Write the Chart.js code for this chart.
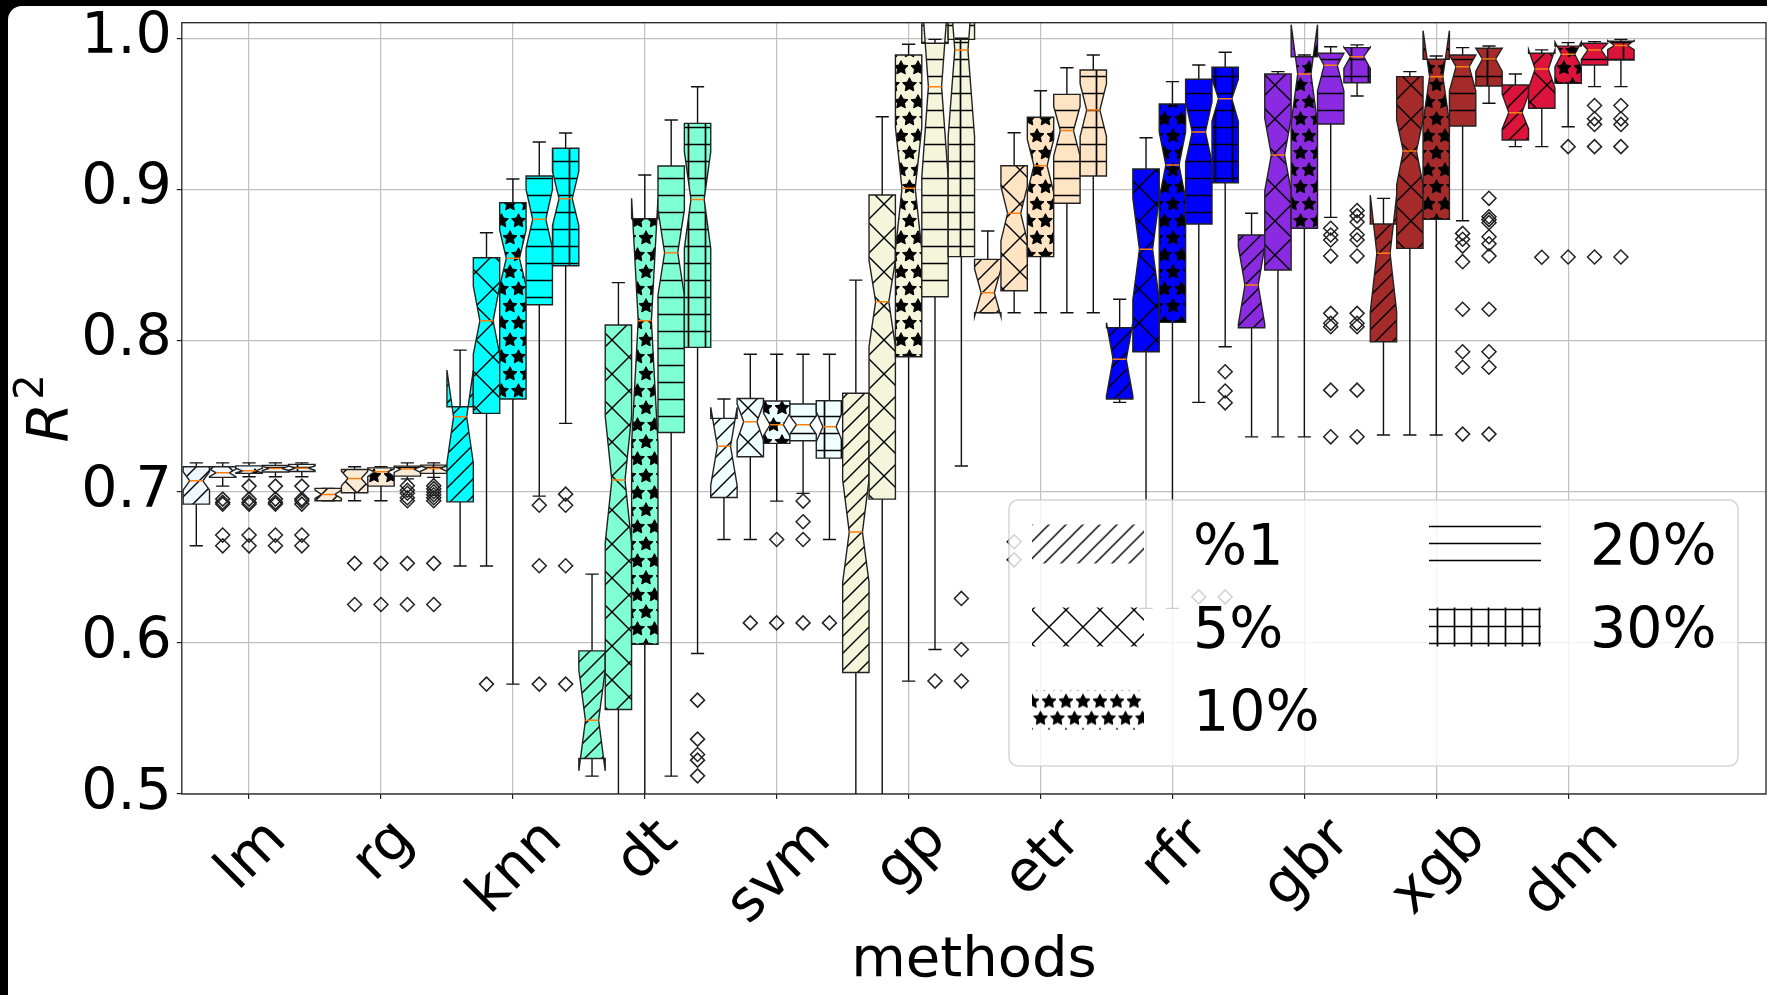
<!DOCTYPE html>
<html>
<head>
<meta charset="utf-8">
<script src="https://cdn.jsdelivr.net/npm/chart.js@4.4.1/dist/chart.umd.min.js"></script>
<style>
  html, body { margin: 0; padding: 0; background: #fff; }
  canvas { display: block; }
</style>
</head>
<body>
<canvas id="chart" width="1767" height="995"></canvas>
<script>
// categories
const methods = ['lm', 'rg', 'knn', 'dt', 'svm', 'gp', 'etr', 'rfr', 'gbr', 'xgb', 'dnn'];
const sizes = ['%1', '5%', '10%', '20%', '30%'];
const yTicks = [0.5, 0.6, 0.7, 0.8, 0.9, 1.0];

// box statistics, one row per method, one column per training size
const whiskerLow = [
  [0.6642, 0.7037, 0.7099, 0.7099, 0.7099],
  [0.6940, 0.6940, 0.6940, 0.7085, 0.7095],
  [0.6508, 0.6508, 0.5727, 0.6971, 0.7452],
  [0.5118, 0.4500, 0.4500, 0.5118, 0.5930],
  [0.6684, 0.6684, 0.6938, 0.6989, 0.6684],
  [0.4500, 0.4500, 0.5747, 0.5956, 0.7170],
  [0.8184, 0.8184, 0.8184, 0.8184, 0.8184],
  [0.7591, 0.6228, 0.6228, 0.7591, 0.7959],
  [0.7363, 0.7363, 0.7363, 0.8815, 0.9618],
  [0.7375, 0.7375, 0.7375, 0.8793, 0.9570],
  [0.9283, 0.9283, 0.9415, 0.9680, 0.9680],
];
const q1 = [
  [0.6918, 0.7095, 0.7121, 0.7130, 0.7134],
  [0.6940, 0.6993, 0.7037, 0.7103, 0.7121],
  [0.6933, 0.7518, 0.7613, 0.8237, 0.8495],
  [0.5235, 0.5559, 0.5991, 0.7392, 0.7955],
  [0.6962, 0.7231, 0.7320, 0.7337, 0.7222],
  [0.5804, 0.6951, 0.7893, 0.8290, 0.8555],
  [0.8184, 0.8330, 0.8555, 0.8908, 0.9089],
  [0.7613, 0.7926, 0.8120, 0.8771, 0.9044],
  [0.8085, 0.8467, 0.8743, 0.9433, 0.9706],
  [0.7992, 0.8610, 0.8802, 0.9420, 0.9684],
  [0.9327, 0.9537, 0.9702, 0.9823, 0.9856],
];
const median = [
  [0.7072, 0.7125, 0.7138, 0.7154, 0.7156],
  [0.6982, 0.7088, 0.7132, 0.7150, 0.7154],
  [0.7496, 0.8131, 0.8544, 0.8802, 0.8939],
  [0.5488, 0.7077, 0.8131, 0.8581, 0.8934],
  [0.7300, 0.7463, 0.7443, 0.7443, 0.7430],
  [0.6733, 0.8257, 0.9007, 0.9680, 0.9923],
  [0.8316, 0.8842, 0.9157, 0.9389, 0.9525],
  [0.7876, 0.8604, 0.9161, 0.9380, 0.9600],
  [0.8367, 0.9228, 0.9764, 0.9821, 0.9878],
  [0.8577, 0.9254, 0.9746, 0.9812, 0.9863],
  [0.9508, 0.9797, 0.9894, 0.9923, 0.9952],
];
const q3 = [
  [0.7165, 0.7165, 0.7171, 0.7174, 0.7181],
  [0.7022, 0.7147, 0.7158, 0.7169, 0.7176],
  [0.7562, 0.8548, 0.8912, 0.9089, 0.9272],
  [0.5947, 0.8103, 0.8806, 0.9155, 0.9437],
  [0.7485, 0.7617, 0.7600, 0.7580, 0.7602],
  [0.7651, 0.8963, 0.9889, 0.9967, 0.9993],
  [0.8537, 0.9157, 0.9477, 0.9629, 0.9790],
  [0.8085, 0.9135, 0.9565, 0.9729, 0.9808],
  [0.8698, 0.9764, 0.9878, 0.9901, 0.9938],
  [0.8771, 0.9746, 0.9861, 0.9889, 0.9934],
  [0.9691, 0.9901, 0.9948, 0.9967, 0.9980],
];
const whiskerHigh = [
  [0.7191, 0.7191, 0.7191, 0.7191, 0.7191],
  [0.7022, 0.7165, 0.7165, 0.7191, 0.7191],
  [0.7937, 0.8713, 0.9069, 0.9314, 0.9373],
  [0.6455, 0.8383, 0.9095, 0.9459, 0.9679],
  [0.7613, 0.7909, 0.7909, 0.7909, 0.7909],
  [0.8400, 0.9481, 0.9960, 0.9993, 1.0000],
  [0.8725, 0.9375, 0.9653, 0.9805, 0.9889],
  [0.8273, 0.9342, 0.9713, 0.9823, 0.9907],
  [0.8842, 0.9779, 0.9889, 0.9944, 0.9956],
  [0.8941, 0.9779, 0.9883, 0.9938, 0.9949],
  [0.9764, 0.9923, 0.9971, 0.9978, 0.9993],
];
const notchLow = [
  [0.7011, 0.7100, 0.7125, 0.7140, 0.7142],
  [0.6955, 0.7040, 0.7100, 0.7128, 0.7135],
  [0.7190, 0.7910, 0.8360, 0.8610, 0.8760],
  [0.5153, 0.6660, 0.7321, 0.8300, 0.8610],
  [0.7042, 0.7340, 0.7370, 0.7380, 0.7330],
  [0.6400, 0.7960, 0.8600, 0.9080, 0.9350],
  [0.8158, 0.8660, 0.8980, 0.9220, 0.9350],
  [0.7634, 0.8270, 0.8940, 0.9180, 0.9450],
  [0.8110, 0.8990, 0.9438, 0.9650, 0.9800],
  [0.8191, 0.9030, 0.9442, 0.9650, 0.9780],
  [0.9400, 0.9670, 0.9810, 0.9860, 0.9925],
];
const notchHigh = [
  [0.7132, 0.7150, 0.7155, 0.7168, 0.7170],
  [0.7010, 0.7135, 0.7150, 0.7165, 0.7170],
  [0.7805, 0.8360, 0.8730, 0.9000, 0.9120],
  [0.5820, 0.7500, 0.8941, 0.8864, 0.9250],
  [0.7558, 0.7580, 0.7520, 0.7500, 0.7530],
  [0.7080, 0.8530, 0.9410, 1.0280, 1.0500],
  [0.8474, 0.9020, 0.9330, 0.9550, 0.9700],
  [0.8118, 0.8940, 0.9380, 0.9580, 0.9730],
  [0.8620, 0.9470, 1.0090, 0.9901, 0.9940],
  [0.8963, 0.9460, 1.0050, 0.9889, 0.9934],
  [0.9630, 0.9925, 0.9975, 0.9967, 0.9985],
];
const outliers = [
  [[], [0.6951, 0.6930, 0.6918, 0.6713, 0.6642], [0.7037, 0.6951, 0.6930, 0.6918, 0.6713, 0.6642],
   [0.7037, 0.6951, 0.6930, 0.6918, 0.6713, 0.6642], [0.7037, 0.6951, 0.6938, 0.6918, 0.6713, 0.6642]],
  [[], [0.6526, 0.6254], [0.6526, 0.6254], [0.7040, 0.7010, 0.6990, 0.6960, 0.6940, 0.6526, 0.6254],
   [0.7040, 0.7020, 0.7000, 0.6980, 0.6960, 0.6940, 0.6526, 0.6254]],
  [[], [0.5727], [], [0.6911, 0.6510, 0.5727], [0.6984, 0.6911, 0.6510, 0.5727]],
  [[], [], [], [], [0.5621, 0.5363, 0.5261, 0.5224, 0.5120]],
  [[], [0.6132], [0.6684, 0.6132], [0.6938, 0.6801, 0.6684, 0.6132], [0.6132]],
  [[], [], [], [0.5747], [0.6294, 0.5956, 0.5747]],
  [[], [0.6669, 0.6549], [], [], []],
  [[], [], [], [0.6304], [0.7794, 0.7666, 0.7588, 0.6304]],
  [[], [], [], [0.8743, 0.8698, 0.8665, 0.8559, 0.8180, 0.8114, 0.8091, 0.7672, 0.7363],
   [0.8860, 0.8825, 0.8785, 0.8700, 0.8665, 0.8559, 0.8180, 0.8114, 0.8091, 0.7672, 0.7363]],
  [[], [], [], [0.8709, 0.8670, 0.8625, 0.8522, 0.8207, 0.7926, 0.7823, 0.7381],
   [0.8941, 0.8819, 0.8800, 0.8780, 0.8687, 0.8640, 0.8560, 0.8207, 0.7926, 0.7823, 0.7381]],
  [[], [0.8551], [0.9283, 0.8553], [0.9555, 0.9467, 0.9430, 0.9283, 0.8553],
   [0.9555, 0.9467, 0.9430, 0.9283, 0.8553]],
];

// styles
const methodColors = ['aliceblue', 'antiquewhite', 'aqua', 'aquamarine', 'azure', 'beige',
  'bisque', 'blue', 'blueviolet', 'brown', 'crimson'];
const hatchKinds = ['//', 'x', '*', '--', '++'];
const legendHatchShift = [0, 2.5, 11, -6.5, -6.5];
const boxWidth = 0.2;
const FONT = '"DejaVu Sans"';

/** Build a repeating hatch tile like the matplotlib ones */
function makeHatch(kind) {
  const s = 34, st = 17;
  const c = document.createElement('canvas');
  c.width = s; c.height = s;
  const g = c.getContext('2d');
  g.strokeStyle = '#000';
  g.fillStyle = '#000';
  g.lineWidth = 1.4;
  const seg = (x1, y1, x2, y2) => { g.beginPath(); g.moveTo(x1, y1); g.lineTo(x2, y2); g.stroke(); };
  if (kind === '//') {
    for (let k = 0; k <= 4; k++) seg(k * st + 2, -2, k * st - s - 2, s + 2);
  } else if (kind === 'x') {
    for (let k = 0; k <= 2; k++) seg(k * s + 2, -2, k * s - s - 2, s + 2);
    for (let k = -1; k <= 1; k++) seg(k * s - 2, -2, k * s + s + 2, s + 2);
  } else if (kind === '--') {
    g.lineWidth = 1.7;
    seg(0, 8.5, s, 8.5); seg(0, 25.5, s, 25.5);
  } else if (kind === '++') {
    g.lineWidth = 1.7;
    seg(0, 8.5, s, 8.5); seg(0, 25.5, s, 25.5);
    seg(8.5, 0, 8.5, s); seg(25.5, 0, 25.5, s);
  } else if (kind === '*') {
    g.lineWidth = 1;
    const star = (cx, cy) => {
      const R = 7.3, r = 3.65;
      g.beginPath();
      for (let k = 0; k < 10; k++) {
        const rad = k % 2 ? r : R;
        const a = -Math.PI / 2 + k * Math.PI / 5;
        const px = cx + rad * Math.cos(a), py = cy + rad * Math.sin(a);
        k ? g.lineTo(px, py) : g.moveTo(px, py);
      }
      g.closePath();
      g.fill();
      g.stroke();
    };
    [[0, 0], [17, 0], [34, 0], [0, 34], [17, 34], [34, 34], [8.5, 17], [25.5, 17]]
      .forEach(([px, py]) => star(px, py));
  }
  return c;
}

const ctx = document.getElementById('chart').getContext('2d');
const patterns = hatchKinds.map(k => ctx.createPattern(makeHatch(k), 'repeat'));

const outlierPoints = [];
methods.forEach((m, i) => {
  sizes.forEach((s, j) => {
    outliers[i][j].forEach(v => outlierPoints.push({x: i + 1 + (j - 2) * boxWidth, y: v}));
  });
});

const framePlugin = {
  id: 'frame',
  beforeDraw(chart) {
    const c = chart.ctx;
    c.save();
    c.fillStyle = '#000';
    c.fillRect(0, 0, chart.width, chart.height);
    c.fillStyle = '#fff';
    c.beginPath();
    c.roundRect(8, 6, chart.width - 8, chart.height - 6, [14, 0, 0, 0]);
    c.fill();
    c.restore();
  },
};

const boxPlugin = {
  id: 'boxes',
  beforeDatasetsDraw(chart) {
    const {ctx: c, chartArea: a, scales: {x, y}} = chart;
    const Y = v => y.getPixelForValue(v);
    const line = (x1, y1, x2, y2) => { c.beginPath(); c.moveTo(x1, y1); c.lineTo(x2, y2); c.stroke(); };
    c.save();
    c.beginPath();
    c.rect(a.left, a.top, a.right - a.left, a.bottom - a.top);
    c.clip();
    methods.forEach((m, i) => {
      sizes.forEach((s, j) => {
        const pos = i + 1 + (j - 2) * boxWidth;
        const cx = x.getPixelForValue(pos);
        const half = x.getPixelForValue(pos + boxWidth / 2) - cx;
        const L = cx - half, R = cx + half, NL = cx - half / 2, NR = cx + half / 2;
        const yq1 = Y(q1[i][j]), yq3 = Y(q3[i][j]), ymed = Y(median[i][j]);
        const ynl = Y(notchLow[i][j]), ynh = Y(notchHigh[i][j]);
        const ywl = Y(whiskerLow[i][j]), ywh = Y(whiskerHigh[i][j]);

        c.strokeStyle = '#111';
        c.lineWidth = 1.4;
        line(cx, yq1, cx, ywl);
        line(cx, yq3, cx, ywh);
        line(cx - half / 2, ywl, cx + half / 2, ywl);
        line(cx - half / 2, ywh, cx + half / 2, ywh);

        c.beginPath();
        c.moveTo(L, yq1);
        c.lineTo(R, yq1);
        c.lineTo(R, ynl);
        c.lineTo(NR, ymed);
        c.lineTo(R, ynh);
        c.lineTo(R, yq3);
        c.lineTo(L, yq3);
        c.lineTo(L, ynh);
        c.lineTo(NL, ymed);
        c.lineTo(L, ynl);
        c.closePath();
        c.fillStyle = methodColors[i];
        c.fill();
        c.fillStyle = patterns[j];
        c.fill();
        c.strokeStyle = '#222';
        c.lineWidth = 1.4;
        c.stroke();

        c.strokeStyle = '#ff7f0e';
        c.lineWidth = 1.5;
        line(NL, ymed, NR, ymed);
      });
    });
    c.restore();
  },
  afterDatasetsDraw(chart) {
    const {ctx: c, chartArea: a} = chart;
    c.save();
    c.strokeStyle = '#222';
    c.lineWidth = 1.3;
    c.strokeRect(a.left, a.top, a.right - a.left, a.bottom - a.top);
    c.restore();
  },
  afterDraw(chart) {
    const {ctx: c, chartArea: a, scales: {x}} = chart;
    c.save();
    c.fillStyle = '#000';

    // rotated method labels, centred under each tick like matplotlib
    const fs = 57;
    c.font = `${fs}px ${FONT}`;
    const asc = 0.928 * fs, desc = 0.236 * fs, k = Math.SQRT1_2;
    methods.forEach((m, i) => {
      const w = c.measureText(m).width;
      const bh = (w + asc + desc) * k;
      const px = x.getPixelForValue(i + 1);
      c.save();
      c.translate(px, a.bottom + 10 + bh / 2);
      c.rotate(-Math.PI / 4);
      c.textAlign = 'center';
      c.textBaseline = 'alphabetic';
      c.fillText(m, 0, (asc - desc) / 2);
      c.restore();
    });

    // axis titles
    c.font = `56px ${FONT}`;
    c.textAlign = 'center';
    c.textBaseline = 'alphabetic';
    c.fillText('methods', (a.left + a.right) / 2, 976);

    c.save();
    c.translate(68, (a.top + a.bottom) / 2);
    c.rotate(-Math.PI / 2);
    c.font = `italic 57px ${FONT}`;
    const rw = c.measureText('R').width;
    c.font = `40px ${FONT}`;
    const tw = c.measureText('2').width;
    const total = rw + 3 + tw;
    c.textAlign = 'left';
    c.font = `italic 57px ${FONT}`;
    c.fillText('R', -total / 2, 0);
    c.font = `40px ${FONT}`;
    c.fillText('2', -total / 2 + rw + 3, -25);
    c.restore();

    // legend
    const lw = 729, lh = 266, pad = 28;
    const lx = a.right - pad - lw, ly = a.bottom - pad - lh;
    c.beginPath();
    c.roundRect(lx, ly, lw, lh, 9);
    c.fillStyle = 'rgba(255,255,255,0.8)';
    c.fill();
    c.strokeStyle = 'rgba(204,204,204,0.8)';
    c.lineWidth = 1.5;
    c.stroke();
    const colX = [lx + 23, lx + 420];
    const rowY = [ly + 44, ly + 127, ly + 210];
    const hw = 112, hh = 39;
    c.font = `57px ${FONT}`;
    c.textAlign = 'left';
    sizes.forEach((s, j) => {
      const col = j < 3 ? 0 : 1, row = j < 3 ? j : j - 3;
      const hx = colX[col], hy = rowY[row];
      const top = hy - hh / 2;
      c.save();
      c.translate(hx, top + legendHatchShift[j]);
      c.fillStyle = patterns[j];
      c.fillRect(0, -legendHatchShift[j], hw, hh);
      c.restore();
      c.fillStyle = '#000';
      c.fillText(s, hx + hw + 49, hy + 21);
    });
    c.restore();
  },
};

Chart.defaults.font.family = FONT;

new Chart(ctx, {
  type: 'scatter',
  data: {
    datasets: [{
      data: outlierPoints,
      pointStyle: 'rectRot',
      pointRadius: 7,
      pointBorderWidth: 1.5,
      pointBorderColor: '#222',
      pointBackgroundColor: 'rgba(0,0,0,0)',
    }],
  },
  options: {
    responsive: false,
    animation: false,
    layout: {autoPadding: false, padding: {top: 22.7, right: 1, left: 0, bottom: 0}},
    scales: {
      x: {
        type: 'linear',
        min: 0.49,
        max: 12.5,
        afterBuildTicks: scale => { scale.ticks = methods.map((m, i) => ({value: i + 1})); },
        afterFit: scale => {
          scale.height = 201;
          scale.paddingLeft = 0; scale.paddingRight = 0;
          scale.paddingTop = 0; scale.paddingBottom = 0;
        },
        ticks: {display: false},
        border: {display: false},
        grid: {color: '#c0c0c0', lineWidth: 1.2, tickLength: 5, tickColor: '#222'},
      },
      y: {
        min: 0.5,
        max: 1.0103,
        afterBuildTicks: scale => { scale.ticks = yTicks.map(v => ({value: v})); },
        afterFit: scale => {
          scale.width = 181.8;
          scale.paddingLeft = 0; scale.paddingRight = 0;
          scale.paddingTop = 0; scale.paddingBottom = 0;
        },
        ticks: {
          includeBounds: false,
          color: '#000',
          padding: 5,
          font: {size: 57},
          callback: v => v.toFixed(1),
        },
        border: {display: false},
        grid: {color: '#c0c0c0', lineWidth: 1.2, tickLength: 5, tickColor: '#222'},
      },
    },
    plugins: {legend: {display: false}, tooltip: {enabled: false}},
  },
  plugins: [framePlugin, boxPlugin],
});
</script>
</body>
</html>
